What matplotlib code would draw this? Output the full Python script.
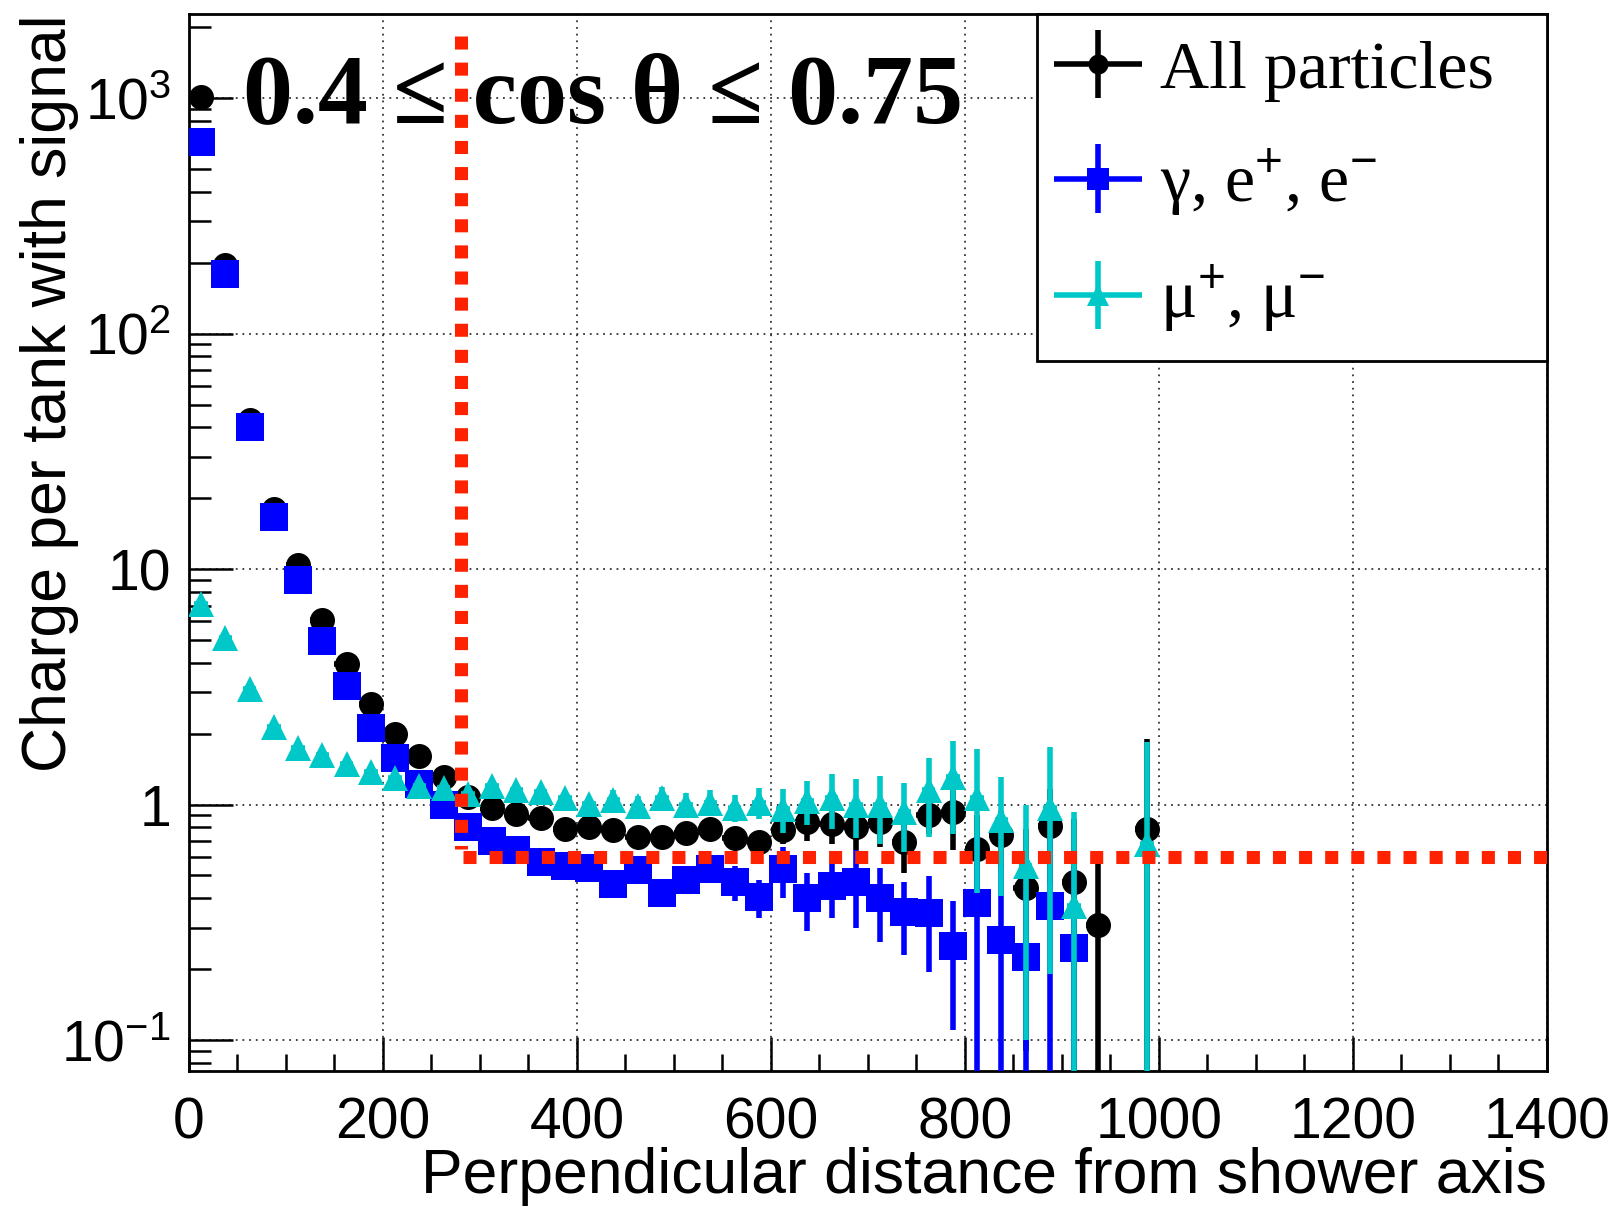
import numpy as np
import matplotlib.pyplot as plt
from matplotlib.font_manager import FontProperties
from matplotlib.legend_handler import HandlerErrorbar
from matplotlib.ticker import (FixedLocator, FixedFormatter, LogLocator,
                               MultipleLocator, NullFormatter)

plt.rcParams['font.family'] = 'Liberation Sans'
plt.rcParams['mathtext.fontset'] = 'custom'
plt.rcParams['mathtext.rm'] = 'Liberation Sans'
plt.rcParams['mathtext.it'] = 'Liberation Sans:italic'
plt.rcParams['mathtext.bf'] = 'Liberation Sans:bold'

# bin centres (25 wide)
dist = np.arange(12.5, 1000.0, 25.0)
nan = np.nan

q_all = [1010, 195, 43, 18, 10.4, 6.1, 3.95, 2.66, 2.0, 1.6,
         1.31, 1.08, 0.97, 0.91, 0.88, 0.79, 0.80, 0.776, 0.73, 0.73,
         0.76, 0.79, 0.72, 0.69, 0.78, 0.84, 0.83, 0.80, 0.84, 0.69,
         0.90, 0.93, 0.65, 0.74, 0.44, 0.81, 0.47, 0.307, nan, 0.79]
e_all = [20, 4, 0.9, 0.4, 0.2, 0.15, 0.1, 0.08, 0.06, 0.05,
         0.04, 0.04, 0.04, 0.04, 0.04, 0.04, 0.04, 0.05, 0.05, 0.05,
         0.06, 0.06, 0.07, 0.07, 0.10, 0.14, 0.15, 0.16, 0.18, 0.18,
         0.15, 0.29, 0.25, 0.20, 0.35, 0.35, 0.40, 0.31, nan, 1.10]

q_em = [650, 180, 40, 16.6, 9.0, 4.95, 3.2, 2.12, 1.58, 1.22,
        1.0, 0.80, 0.70, 0.64, 0.57, 0.55, 0.54, 0.46, 0.525, 0.42,
        0.476, 0.53, 0.47, 0.405, 0.53, 0.40, 0.45, 0.47, 0.40, 0.35,
        0.345, 0.25, 0.38, 0.265, 0.225, 0.37, 0.245, nan, nan, nan]
e_em = [15, 4, 0.9, 0.4, 0.2, 0.12, 0.08, 0.06, 0.05, 0.04,
        0.03, 0.03, 0.03, 0.03, 0.03, 0.03, 0.04, 0.04, 0.05, 0.05,
        0.06, 0.06, 0.08, 0.075, 0.13, 0.11, 0.12, 0.17, 0.14, 0.12,
        0.15, 0.14, 0.35, 0.30, 0.25, 0.35, 0.30, nan, nan, nan]

q_mu = [7.1, 5.1, 3.1, 2.14, 1.73, 1.63, 1.49, 1.37, 1.30, 1.20,
        1.17, 1.11, 1.20, 1.15, 1.13, 1.07, 1.01, 1.05, 0.99, 1.07,
        1.0, 1.02, 0.97, 1.02, 0.96, 1.04, 1.07, 1.0, 1.0, 0.93,
        1.15, 1.31, 1.07, 0.86, 0.55, 0.97, 0.37, nan, nan, 0.68]
e_mu = [0.2, 0.15, 0.1, 0.07, 0.06, 0.05, 0.05, 0.05, 0.05, 0.05,
        0.05, 0.05, 0.06, 0.06, 0.06, 0.07, 0.07, 0.10, 0.10, 0.12,
        0.12, 0.13, 0.13, 0.15, 0.20, 0.22, 0.28, 0.28, 0.32, 0.30,
        0.42, 0.56, 0.65, 0.45, 0.45, 0.78, 0.56, nan, nan, 1.17]

cut_dist = 280
cut_charge = 0.6

fig = plt.figure(figsize=(16.22, 12.09), dpi=100)
ax = fig.add_axes([0.1165, 0.1141, 0.8372, 0.8743])
ax.set_yscale('log', nonpositive='clip')

eb_all = ax.errorbar(dist, q_all, yerr=e_all, xerr=12.5, fmt='o', ms=18,
                     color='black', mew=0, elinewidth=4, capsize=0, zorder=3)
eb_em = ax.errorbar(dist, q_em, yerr=e_em, xerr=12.5, fmt='s', ms=19.5,
                    color='#0000ff', mew=0, elinewidth=4, capsize=0, zorder=4)
# short x bars so the triangles hide them
eb_mu = ax.errorbar(dist, q_mu, yerr=e_mu, xerr=7, fmt='^', ms=19,
                    color='#00c8c8', mew=0, elinewidth=4, capsize=0, zorder=5)

# cut lines
ax.plot([cut_dist, cut_dist], [1840, 0.65], color='#ff2200', lw=9.4,
        linestyle=(0, (1, 1)), zorder=6)
ax.plot([cut_dist + 3, 1400], [cut_charge, cut_charge], color='#ff2200', lw=9.4,
        linestyle=(0, (1, 1)), zorder=6)

ax.set_xlim(0, 1400)
ax.set_ylim(0.0738, 2277)

ax.xaxis.set_major_locator(MultipleLocator(200))
ax.xaxis.set_minor_locator(MultipleLocator(50))
ax.yaxis.set_major_locator(FixedLocator([0.1, 1, 10, 100, 1000]))
ax.yaxis.set_major_formatter(FixedFormatter(['$10^{-1}$', '1', '10', '$10^{2}$', '$10^{3}$']))
ax.yaxis.set_minor_locator(LogLocator(base=10, subs=np.arange(2, 10), numticks=30))
ax.yaxis.set_minor_formatter(NullFormatter())

ax.tick_params(axis='both', which='both', direction='in', top=False, right=False)
ax.tick_params(axis='x', which='major', length=24.5, width=1.8, labelsize=41, pad=18)
ax.tick_params(axis='x', which='minor', length=12, width=1.8)
ax.tick_params(axis='y', which='major', length=31.7, width=1.8, labelsize=41, pad=13)
ax.tick_params(axis='y', which='minor', length=16, width=1.8)
for s in ax.spines.values():
    s.set_linewidth(2)

ax.set_axisbelow(True)
ax.grid(True, which='major', linestyle=(0, (1, 2.7)), color='#333333', lw=1.3)

ax.set_xlabel('Perpendicular distance from shower axis', fontsize=45, loc='right')
ax.xaxis.set_label_coords(1.0, -0.0715)
ax.set_ylabel('Charge per tank with signal', fontsize=45, loc='top')
ax.yaxis.set_label_coords(-0.081, 1.0)

ax.text(0.040, 0.898, '0.4 ≤ cos θ ≤ 0.75', transform=ax.transAxes, va='baseline',
        ha='left', fontproperties=FontProperties(family='Liberation Serif', weight='bold', size=72),
        zorder=7)

leg = ax.legend([eb_all, eb_em, eb_mu],
                ['All particles', 'γ, e$^{+}$, e$^{-}$', 'μ$^{+}$, μ$^{-}$'],
                loc='upper left', bbox_to_anchor=(0.6248, 0.6736, 0.3752, 0.3264),
                mode='expand', borderaxespad=0, borderpad=0.39, labelspacing=0.66,
                handlelength=1.0, handletextpad=0.41, markerscale=0.8,
                prop=FontProperties(family='Liberation Serif', size=49),
                fancybox=False, framealpha=1, edgecolor='black',
                handler_map={type(eb_all): HandlerErrorbar(xerr_size=0.65, yerr_size=0.5)})
leg.get_frame().set_linewidth(2)
leg.set_zorder(8)

fig.savefig('out.png', dpi=100, facecolor='white')
